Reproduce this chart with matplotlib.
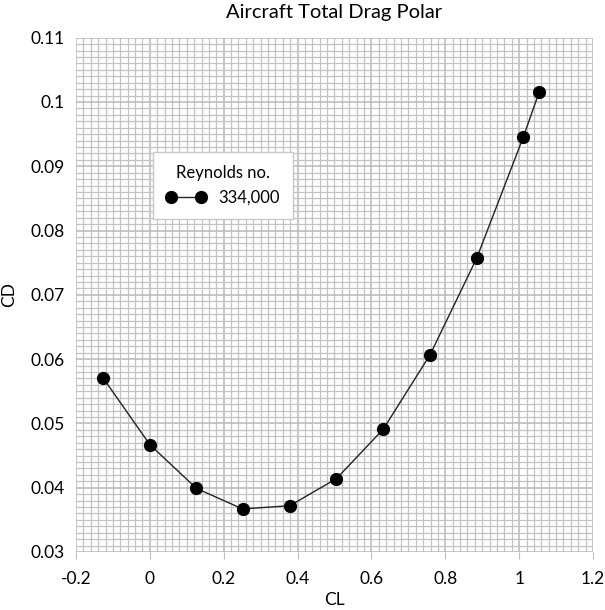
from matplotlib import pyplot as plt
import numpy as np

# Drag polar values
cl = [-0.127, 0.0, 0.126, 0.251, 0.379, 0.505, 0.632, 0.759, 0.885, 1.011, 1.054]
cd = [0.0571, 0.0467, 0.0399, 0.0367, 0.0372, 0.0414, 0.0491, 0.0607, 0.0757, 0.0945, 0.1015]
x_ticks = [-0.2, 0, 0.2, 0.4, 0.6, 0.8, 1, 1.2]
y_ticks = [0.03, 0.04, 0.05, 0.06, 0.07, 0.08, 0.09, 0.1, 0.11]
x_labels = ["-0.2", "0", "0.2", "0.4", "0.6", "0.8", "1", "1.2"]
y_labels = ["0.03", "0.04", "0.05", "0.06", "0.07", "0.08", "0.09", "0.1", "0.11"]

plt.rcParams["font.family"] = ["Lato", "DejaVu Sans"]

fig = plt.figure(figsize=(6.05, 6.1), dpi=100)
ax = fig.add_axes([76 / 605, 1 - 552 / 610, (593 - 76) / 605, (552 - 37.7) / 610])

ax.plot(cl, cd, color="#222222", lw=1, marker="o", markersize=8.5,
        markerfacecolor="black", markeredgecolor="black", label="334,000", zorder=3)

ax.set_xlim(-0.2, 1.2)
ax.set_ylim(0.03, 0.11)

# Major ticks and labels
ax.set_xticks(x_ticks)
ax.set_xticklabels(x_labels)
ax.set_yticks(y_ticks)
ax.set_yticklabels(y_labels)

# Dense graph-paper grid
ax.set_xticks(np.arange(-0.2, 1.2001, 0.02), minor=True)
ax.set_yticks(np.arange(0.03, 0.11001, 0.001), minor=True)
ax.grid(which="major", color="#bdbdbd", lw=1.2)
ax.grid(which="minor", color="#c2c2c2", lw=0.9)
ax.set_axisbelow(True)

ax.tick_params(which="minor", length=0)
ax.tick_params(axis="x", which="major", length=5, color="#bdbdbd", labelsize=12.5, pad=9)
ax.tick_params(axis="y", which="major", length=0, labelsize=12.5, pad=8)
for s in ax.spines.values():
    s.set_visible(False)

ax.set_title("Aircraft Total Drag Polar", fontsize=14.5, pad=14)
ax.set_xlabel("CL", fontsize=12.5, labelpad=3)
ax.set_ylabel("CD", fontsize=12.5, labelpad=10)

leg = ax.legend(title="Reynolds no.", loc="upper left", bbox_to_anchor=(0.149, 0.778),
                borderaxespad=0, numpoints=2, fontsize=12, title_fontsize=12,
                fancybox=False, framealpha=1, edgecolor="#c8c8c8", borderpad=0.8,
                handlelength=2.4, handletextpad=0.7)

plt.savefig("out.png", dpi=100)
